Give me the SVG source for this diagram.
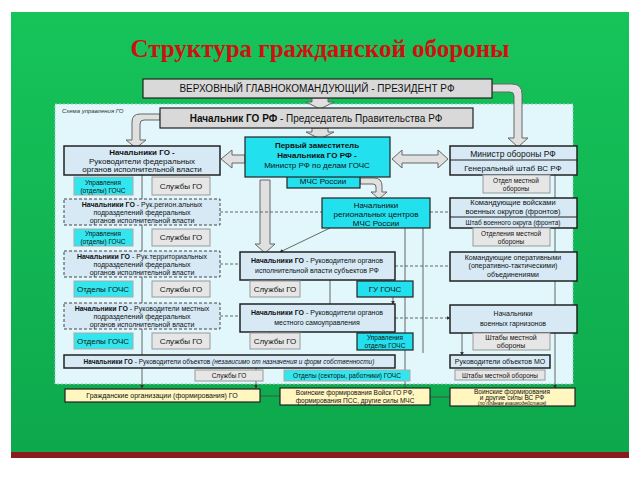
<svg xmlns="http://www.w3.org/2000/svg" width="640" height="480" viewBox="0 0 640 480">
<defs>
<linearGradient id="bg" x1="0" y1="0" x2="0" y2="1"><stop offset="0" stop-color="#16c45a"/><stop offset="1" stop-color="#0da84c"/></linearGradient>
<marker id="ah" viewBox="0 0 6 6" refX="5" refY="3" markerWidth="5" markerHeight="5" orient="auto"><path d="M0,0L6,3L0,6z" fill="#333"/></marker>
<style>
text{font-family:"Liberation Sans",Arial,sans-serif;font-size:8px;fill:#111;text-anchor:middle}
.b{font-weight:bold}
.g{fill:#d9d9d9;stroke:#222;stroke-width:1.2}
.lb{fill:#d6e9f5;stroke:#222;stroke-width:1.5}
.d{fill:#d6e9f5;stroke:#444;stroke-width:1;stroke-dasharray:3,2}
.c{fill:#22e0ee;stroke:#222;stroke-width:1.2}
.cs{fill:#33e6ee;stroke:#aaa;stroke-width:1}
.gs{fill:#e6e6e6;stroke:#999;stroke-width:1}
.y{fill:#fff6c0;stroke:#222;stroke-width:1.2}
.fa{fill:#e0e0e0;stroke:#666;stroke-width:1}
.ln{fill:none;stroke:#444;stroke-width:0.8}
.dl{fill:none;stroke:#444;stroke-width:0.8;stroke-dasharray:3,2}
</style>
</defs>
<rect width="640" height="480" fill="#fff"/>
<rect x="11" y="12" width="618" height="444" fill="url(#bg)"/>
<rect x="11" y="452" width="618" height="6" fill="#8b1a1a"/>
<text x="320" y="57" style="font-family:'Liberation Serif',serif;font-size:25px;font-weight:bold;fill:#d01010">Структура гражданской обороны</text>
<rect x="55" y="104" width="518" height="280" fill="#e2f7fb" stroke="#9cc" stroke-width="1" stroke-dasharray="2,2"/>
<text x="62" y="113" style="font-size:6px;font-style:italic;text-anchor:start;fill:#333">Схема управления ГО</text>

<g id="connectors">
<path class="fa" d="M312,98h16v4h6l-14,7l-14,-7h6z"/>
<path class="fa" d="M312,128h16v4h6l-14,7l-14,-7h6z"/>
<path class="fa" d="M160,114h-20q-8,0 -8,8v18h-6l10,8l10,-8h-6v-16q0,-4 4,-4h16z"/>
<path class="fa" d="M492,84h20q10,0 10,10v44h6l-10,9l-10,-9h6v-42q0,-4 -4,-4h-18z"/>
<path class="fa" d="M245,155h-13v-5l-11,9l11,9v-5h13z"/>
<path class="fa" d="M392,159l10,-9v5h36v-5l10,9l-10,9v-5h-36v5z"/>
<path class="fa" d="M360,178h14q8,0 8,8v6h5l-8,7l-8,-7h5v-5q0,-3 -3,-3h-13z"/>
<path class="fa" d="M260,180h10v64h5l-10,9l-10,-9h5z"/>
<path class="ln" d="M142,175v24M142,225v26M142,277v26M142,329v26M142,368v20" marker-end="url(#ah)"/>
<path class="ln" d="M555,175v23M555,228v24M555,281v24M555,333v55" marker-end="url(#ah)"/>
<path class="ln" d="M462,333v22" marker-end="url(#ah)"/>
<path class="ln" d="M256,368v20" marker-end="url(#ah)"/>
<path class="ln" d="M405,228v160M423,228v125M393,297v7" marker-end="url(#ah)"/>
<path class="ln" d="M330,280v24M270,280v1M270,332v1" marker-end="url(#ah)"/>
<path class="ln" d="M330,228l-50,24" marker-end="url(#ah)"/>
<path class="dl" d="M220,212h102M430,212h20M220,264h20M395,266h55M220,316h20M395,318h55" marker-end="url(#ah)"/>
<path class="ln" d="M260,396h20M430,397h20"/>
</g>

<g id="president"><rect class="g" x="143" y="79" width="349" height="19"/><text x="317" y="92" style="font-size:10px">ВЕРХОВНЫЙ ГЛАВНОКОМАНДУЮЩИЙ - ПРЕЗИДЕНТ РФ</text></g>
<g id="chief"><rect class="g" x="160" y="108" width="313" height="20"/><text x="316" y="122" style="font-size:10px"><tspan class="b">Начальник ГО РФ</tspan> - Председатель Правительства РФ</text></g>
<g id="deputy"><rect class="c" x="287" y="172" width="73" height="16"/><text x="323" y="184">МЧС России</text>
<rect class="c" x="245" y="137" width="145" height="40"/><text x="317" y="148" class="b">Первый заместитель</text><text x="317" y="158" class="b">Начальника ГО РФ -</text><text x="317" y="168">Министр РФ по делам ГОЧС</text></g>

<g id="fed"><rect class="lb" x="64" y="146" width="156" height="29"/><text x="142" y="155" class="b">Начальники ГО -</text><text x="142" y="164">Руководители федеральных</text><text x="142" y="172">органов исполнительной власти</text>
<rect class="cs" x="74" y="177" width="59" height="18"/><text x="103" y="185" style="font-size:6.5px">Управления</text><text x="103" y="193" style="font-size:6.5px">(отделы) ГОЧС</text>
<rect class="gs" x="152" y="177" width="58" height="18"/><text x="181" y="189">Службы ГО</text></g>

<g id="reg"><rect class="d" x="64" y="199" width="156" height="26"/><text x="142" y="207" style="font-size:7px"><tspan class="b">Начальники ГО</tspan> - Рук.регион.альных</text><text x="142" y="215" style="font-size:7px">подразделений федеральных</text><text x="142" y="223" style="font-size:7px">органов исполнительной власти</text>
<rect class="cs" x="74" y="229" width="59" height="17"/><text x="103" y="236" style="font-size:6.5px">Управления</text><text x="103" y="244" style="font-size:6.5px">(отделы) ГОЧС</text>
<rect class="gs" x="152" y="229" width="58" height="17"/><text x="181" y="240">Службы ГО</text></g>

<g id="terr"><rect class="d" x="64" y="251" width="156" height="26"/><text x="142" y="259" style="font-size:7px"><tspan class="b">Начальники ГО</tspan> - Рук.территориальных</text><text x="142" y="267" style="font-size:7px">подразделений федеральных</text><text x="142" y="275" style="font-size:7px">органов исполнительной власти</text>
<rect class="cs" x="74" y="281" width="59" height="16"/><text x="103" y="292">Отделы ГОЧС</text>
<rect class="gs" x="152" y="281" width="58" height="16"/><text x="181" y="292">Службы ГО</text></g>

<g id="local"><rect class="d" x="64" y="303" width="156" height="26"/><text x="142" y="311" style="font-size:7px"><tspan class="b">Начальники ГО</tspan> - Руководители местных</text><text x="142" y="319" style="font-size:7px">подразделений федеральных</text><text x="142" y="327" style="font-size:7px">органов исполнительной власти</text>
<rect class="cs" x="74" y="333" width="59" height="16"/><text x="103" y="344">Отделы ГОЧС</text>
<rect class="gs" x="152" y="333" width="58" height="16"/><text x="181" y="344">Службы ГО</text></g>

<g id="objects"><rect class="lb" x="64" y="355" width="331" height="13"/><text x="229" y="364" style="font-size:6.5px"><tspan class="b">Начальники ГО</tspan> - Руководители объектов <tspan font-style="italic">(независимо от назначения и форм собственности)</tspan></text>
<rect class="gs" x="195" y="370" width="68" height="11"/><text x="229" y="378" style="font-size:6.5px">Службы ГО</text>
<rect class="cs" x="284" y="370" width="126" height="11"/><text x="347" y="378" style="font-size:6.5px">Отделы (секторы, работники) ГОЧС</text></g>

<g id="regcenters"><rect class="c" x="322" y="198" width="108" height="30"/><text x="376" y="208">Начальники</text><text x="376" y="217">региональных центров</text><text x="376" y="226">МЧС России</text></g>

<g id="subj"><rect class="lb" x="240" y="252" width="155" height="28"/><text x="317" y="263" style="font-size:7px"><tspan class="b">Начальники ГО</tspan> - Руководители органов</text><text x="317" y="273" style="font-size:7px">исполнительной власти субъектов РФ</text>
<rect class="gs" x="250" y="281" width="50" height="16"/><text x="275" y="292">Службы ГО</text>
<rect class="c" x="357" y="281" width="56" height="16"/><text x="385" y="292">ГУ ГОЧС</text></g>

<g id="mun"><rect class="lb" x="240" y="304" width="155" height="28"/><text x="317" y="315" style="font-size:7px"><tspan class="b">Начальники ГО</tspan> - Руководители органов</text><text x="317" y="325" style="font-size:7px">местного самоуправления</text>
<rect class="gs" x="250" y="333" width="50" height="16"/><text x="275" y="344">Службы ГО</text>
<rect class="c" x="357" y="333" width="56" height="17"/><text x="385" y="340" style="font-size:6.5px">Управления</text><text x="385" y="348" style="font-size:6.5px">отделы ГОЧС</text></g>

<g id="mo"><rect class="lb" x="450" y="146" width="127" height="29"/><line x1="450" y1="160" x2="577" y2="160" stroke="#222"/><text x="513" y="157" style="font-size:8.5px">Министр обороны РФ</text><text x="513" y="171">Генеральный штаб ВС РФ</text>
<rect class="gs" x="483" y="175" width="67" height="18"/><text x="516" y="183" style="font-size:6.5px">Отдел местной</text><text x="516" y="191" style="font-size:6.5px">обороны</text></g>

<g id="okrug"><rect class="lb" x="450" y="198" width="127" height="30"/><line x1="450" y1="217" x2="577" y2="217" stroke="#222"/><text x="513" y="205" style="font-size:7.5px">Командующие войсками</text><text x="513" y="214" style="font-size:7.5px">военных округов (фронтов)</text><text x="513" y="225" style="font-size:6.5px">Штаб военного округа (фронта)</text>
<rect class="gs" x="473" y="228" width="77" height="18"/><text x="511" y="236" style="font-size:6.5px">Отделения местной</text><text x="511" y="244" style="font-size:6.5px">обороны</text></g>

<g id="oper"><rect class="lb" x="450" y="252" width="127" height="29"/><text x="513" y="260" style="font-size:7px">Командующие оперативными</text><text x="513" y="268" style="font-size:7px">(оперативно-тактическими)</text><text x="513" y="277" style="font-size:7px">объединениями</text></g>

<g id="garr"><rect class="lb" x="450" y="305" width="127" height="28"/><text x="513" y="316" style="font-size:7px">Начальники</text><text x="513" y="326" style="font-size:7px">военных гарнизонов</text>
<rect class="gs" x="473" y="333" width="77" height="17"/><text x="511" y="340" style="font-size:7px">Штабы местной</text><text x="511" y="348" style="font-size:7px">обороны</text></g>

<g id="moobj"><rect class="lb" x="450" y="355" width="100" height="13"/><text x="500" y="364" style="font-size:7px">Руководители объектов МО</text>
<rect class="gs" x="455" y="370" width="90" height="10"/><text x="500" y="378" style="font-size:6.5px">Штабы местной обороны</text></g>

<g id="civil"><rect class="y" x="65" y="389" width="195" height="13"/><text x="162" y="398" style="font-size:7px">Гражданские организации (формирования) ГО</text></g>
<g id="mchsforces"><rect class="y" x="280" y="388" width="150" height="17"/><text x="355" y="395" style="font-size:6.5px">Воинские формирования Войск ГО РФ,</text><text x="355" y="403" style="font-size:6.5px">формирования ПСС, другие силы МЧС</text></g>
<g id="armyforces"><rect class="y" x="450" y="388" width="125" height="18"/><text x="512" y="394" style="font-size:6.5px">Воинские формирования</text><text x="512" y="400" style="font-size:6.5px">и другие силы ВС РФ</text><text x="512" y="405" style="font-size:5px;font-style:italic">(по планам взаимодействия)</text></g>
</svg>
